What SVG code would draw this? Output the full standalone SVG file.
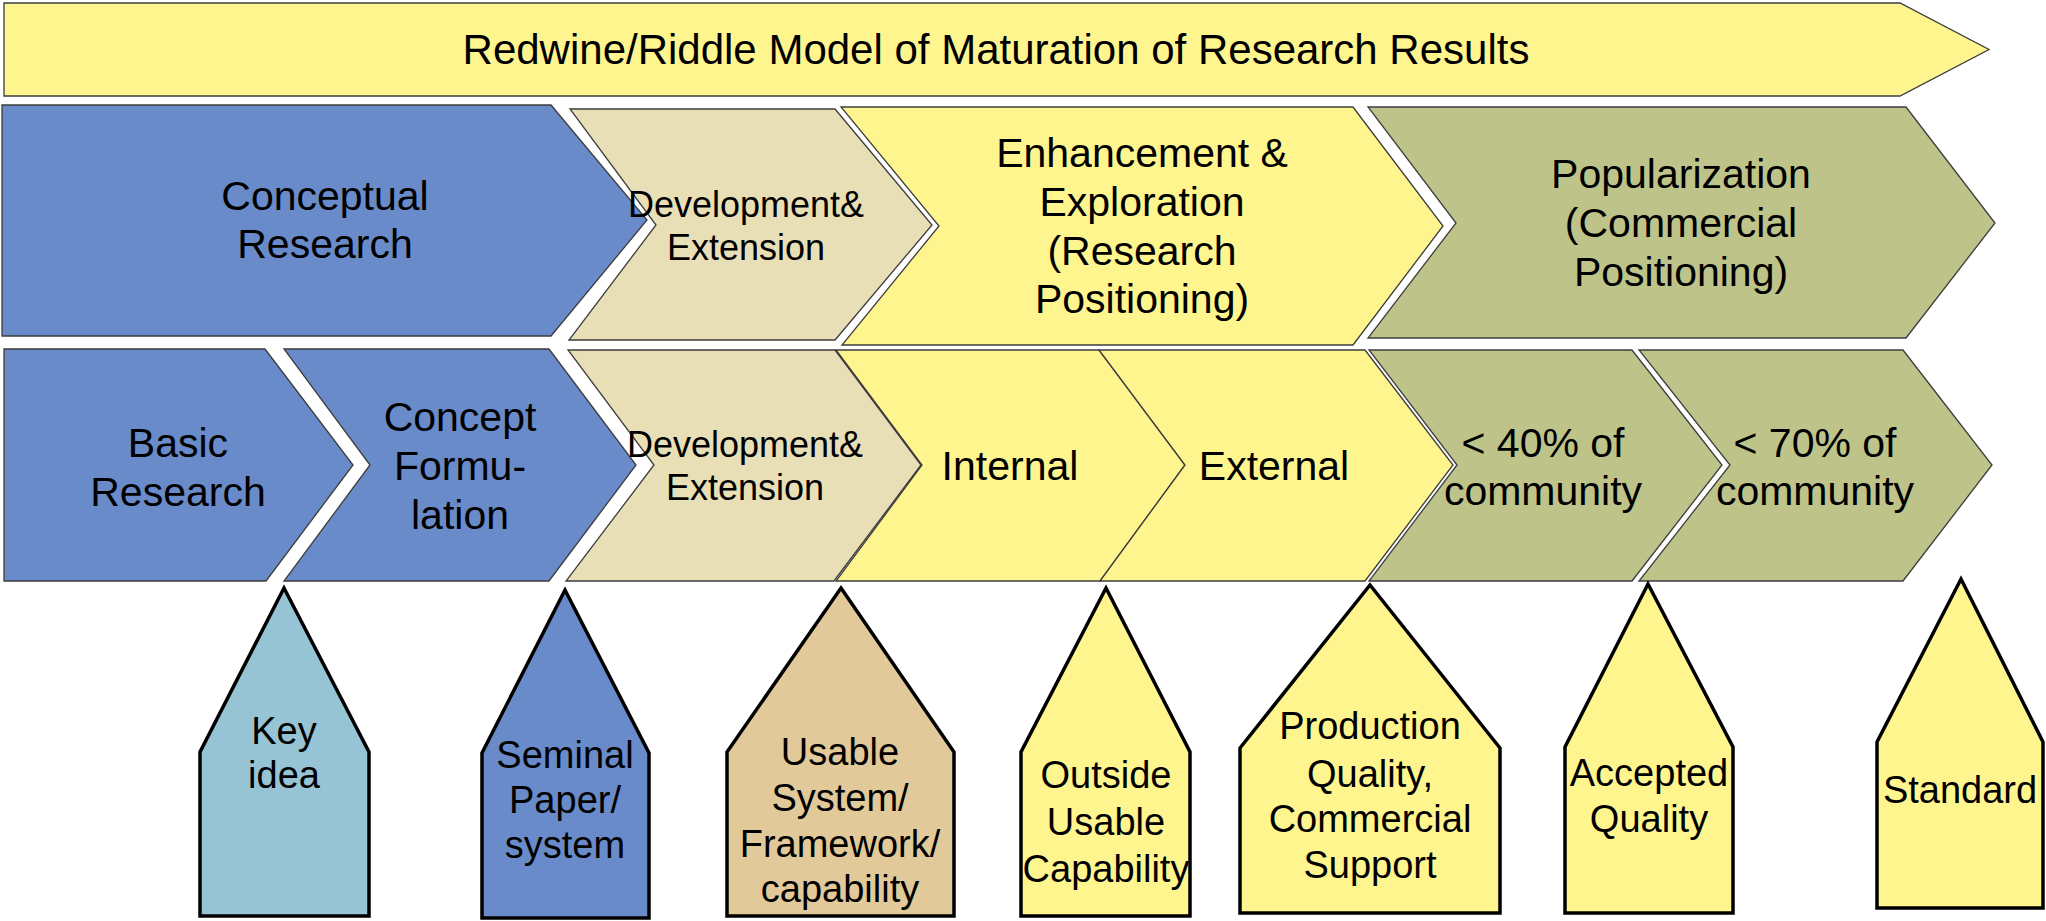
<svg xmlns="http://www.w3.org/2000/svg" width="2046" height="921" viewBox="0 0 2046 921">
<style>
  .chev { stroke:#3c3c3c; stroke-width:1.3; stroke-linejoin:miter; }
  .house { stroke:#000; stroke-width:3.5; stroke-linejoin:miter; }
  .yellow { fill:#FFF58F; }
  .blue { fill:#6A8BCA; }
  .tan { fill:#E9DFB7; }
  .olive { fill:#BEC489; }
  .lblue { fill:#96C4D5; }
  .brown { fill:#E2C99A; }
  text { font-family:"Liberation Sans", Arial, sans-serif; fill:#000; text-anchor:middle; }
  .t42 { font-size:42px; }
  .t41 { font-size:41px; }
  .t36 { font-size:36px; }
  .t38 { font-size:38px; }
</style>
<rect width="2046" height="921" fill="#fff"/>

<g id="banner">
  <polygon class="chev yellow" points="4,3 1900,3 1989,49.5 1900,96 4,96"/>
  <text class="t42" x="996" y="64">Redwine/Riddle Model of Maturation of Research Results</text>
</g>

<g id="conceptual-research">
  <polygon class="chev blue" points="2,105 551,105 647,220 551,336 2,336"/>
  <text class="t41" x="325" y="210">Conceptual</text>
  <text class="t41" x="325" y="258">Research</text>
</g>
<g id="dev-ext-1">
  <polygon class="chev tan" points="570,109 835,109 932,225 835,340 569,340 656,225"/>
  <text class="t36" x="746" y="217">Development&amp;</text>
  <text class="t36" x="746" y="260">Extension</text>
</g>
<g id="enhancement">
  <polygon class="chev yellow" points="841,107 1353,107 1443,226 1353,345 842,345 939,226"/>
  <text class="t41" x="1142" y="167">Enhancement &amp;</text>
  <text class="t41" x="1142" y="216">Exploration</text>
  <text class="t41" x="1142" y="265">(Research</text>
  <text class="t41" x="1142" y="313">Positioning)</text>
</g>
<g id="popularization">
  <polygon class="chev olive" points="1368,107 1906,107 1995,223 1906,338 1368,338 1456,223"/>
  <text class="t41" x="1681" y="188">Popularization</text>
  <text class="t41" x="1681" y="237">(Commercial</text>
  <text class="t41" x="1681" y="286">Positioning)</text>
</g>

<g id="basic-research">
  <polygon class="chev blue" points="4,349 265,349 353,465 266,581 4,581"/>
  <text class="t41" x="178" y="457">Basic</text>
  <text class="t41" x="178" y="506">Research</text>
</g>
<g id="concept-formulation">
  <polygon class="chev blue" points="284,349 549,349 636,465 549,581 284,581 370,465"/>
  <text class="t41" x="460" y="431">Concept</text>
  <text class="t41" x="460" y="480">Formu-</text>
  <text class="t41" x="460" y="529">lation</text>
</g>
<g id="dev-ext-2">
  <polygon class="chev tan" points="568,350 835,350 921,465 834,581 566,581 654,465"/>
  <text class="t36" x="745" y="457">Development&amp;</text>
  <text class="t36" x="745" y="500">Extension</text>
</g>
<g id="internal">
  <polygon class="chev yellow" points="836,350 1099,350 1185,465 1100,581 836,581 922,465"/>
  <text class="t41" x="1010" y="480">Internal</text>
</g>
<g id="external">
  <polygon class="chev yellow" points="1099,350 1365,350 1453,465 1365,581 1100,581 1185,465"/>
  <text class="t41" x="1274" y="480">External</text>
</g>
<g id="community-40">
  <polygon class="chev olive" points="1369,350 1632,350 1722,465 1632,581 1369,581 1457,465"/>
  <text class="t41" x="1543" y="457">&lt; 40% of</text>
  <text class="t41" x="1543" y="505">community</text>
</g>
<g id="community-70">
  <polygon class="chev olive" points="1639,350 1903,350 1992,465 1903,581 1639,581 1730,465"/>
  <text class="t41" x="1815" y="457">&lt; 70% of</text>
  <text class="t41" x="1815" y="505">community</text>
</g>

<g id="key-idea">
  <polygon class="house lblue" points="284,588 369,752 369,916 200,916 200,752"/>
  <text class="t38" x="284" y="744">Key</text>
  <text class="t38" x="284" y="788">idea</text>
</g>
<g id="seminal-paper">
  <polygon class="house blue" points="565,590 649,753 649,918 482,918 482,753"/>
  <text class="t38" x="565" y="768">Seminal</text>
  <text class="t38" x="565" y="813">Paper/</text>
  <text class="t38" x="565" y="858">system</text>
</g>
<g id="usable-system">
  <polygon class="house brown" points="841,588 954,752 954,916 727,916 727,752"/>
  <text class="t38" x="840" y="765">Usable</text>
  <text class="t38" x="840" y="811">System/</text>
  <text class="t38" x="840" y="857">Framework/</text>
  <text class="t38" x="840" y="902">capability</text>
</g>
<g id="outside-usable">
  <polygon class="house yellow" points="1106,588 1190,752 1190,916 1021,916 1021,752"/>
  <text class="t38" x="1106" y="788">Outside</text>
  <text class="t38" x="1106" y="835">Usable</text>
  <text class="t38" x="1106" y="882">Capability</text>
</g>
<g id="production-quality">
  <polygon class="house yellow" points="1370,585 1500,748 1500,913 1240,913 1240,748"/>
  <text class="t38" x="1370" y="739">Production</text>
  <text class="t38" x="1370" y="787">Quality,</text>
  <text class="t38" x="1370" y="832">Commercial</text>
  <text class="t38" x="1370" y="878">Support</text>
</g>
<g id="accepted-quality">
  <polygon class="house yellow" points="1648,584 1733,747 1733,913 1565,913 1565,747"/>
  <text class="t38" x="1649" y="786">Accepted</text>
  <text class="t38" x="1649" y="832">Quality</text>
</g>
<g id="standard">
  <polygon class="house yellow" points="1961,579 2043,742 2043,908 1877,908 1877,742"/>
  <text class="t38" x="1960" y="803">Standard</text>
</g>
</svg>
